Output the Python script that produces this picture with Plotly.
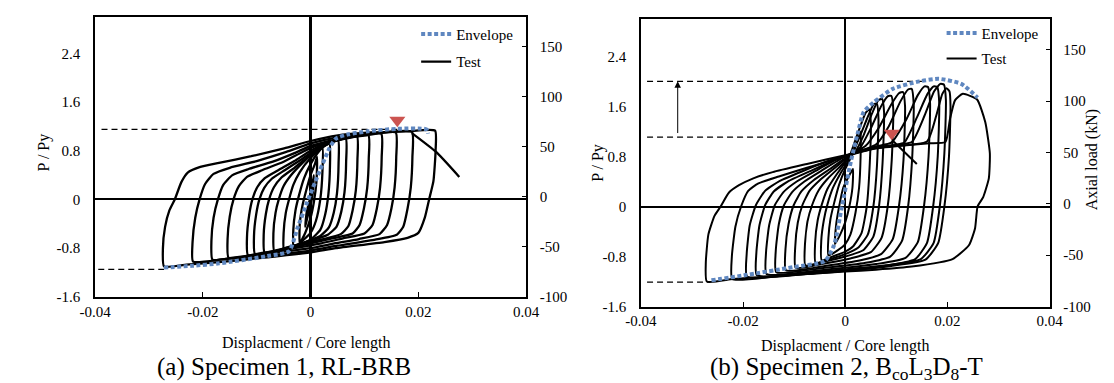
import plotly.graph_objects as go

# ---------------- axis ticks ----------------
x_ticks = [-0.04, -0.02, 0, 0.02, 0.04]
x_tick_text = ["-0.04", "-0.02", "0", "0.02", "0.04"]
p_ticks = [-1.6, -0.8, 0, 0.8, 1.6, 2.4]
p_tick_text = ["-1.6", "-0.8", "0", "0.8", "1.6", "2.4"]
kn_ticks = [-100, -50, 0, 50, 100, 150]
kn_tick_text = ["-100", "-50", "0", "50", "100", "150"]

# ---------------- Specimen 1 (RL-BRB): test loops (x, P/Py) ----------------
a1 = [(-0.0272,-1.10),(-0.0274,-0.80),(-0.0270,-0.45),(-0.0262,-0.18),(-0.0252,0.00),(-0.0240,0.28),(-0.0228,0.44),(-0.0206,0.53),(-0.0170,0.60),(-0.0110,0.71),(-0.0049,0.84),(0.0000,0.96),(0.0048,1.05),(0.0113,1.10),(0.0180,1.12),(0.0231,1.13),(0.0232,0.80),(0.0228,0.30),(0.0220,0.00),(0.0212,-0.30),(0.0200,-0.55),(0.0180,-0.63),(0.0137,-0.70),(0.0047,-0.80),(0.0000,-0.87),(-0.0080,-0.95),(-0.0170,-1.03),(-0.0230,-1.07),(-0.0272,-1.10)]
a2 = [(-0.0218,-1.02),(-0.0219,-0.70),(-0.0214,-0.30),(-0.0206,0.00),(-0.0196,0.25),(-0.0180,0.42),(-0.0150,0.52),(-0.0100,0.63),(-0.0045,0.78),(0.0000,0.92),(0.0050,1.02),(0.0110,1.08),(0.0188,1.11),(0.0189,0.70),(0.0186,0.20),(0.0180,-0.15),(0.0172,-0.45),(0.0160,-0.58),(0.0120,-0.66),(0.0050,-0.76),(0.0000,-0.84),(-0.0080,-0.92),(-0.0160,-0.98),(-0.0218,-1.02)]
a3 = [(-0.0182,-0.99),(-0.0184,-0.68),(-0.0180,-0.30),(-0.0172,0.00),(-0.0162,0.24),(-0.0145,0.40),(-0.0115,0.50),(-0.0070,0.62),(-0.0030,0.76),(0.0000,0.88),(0.0050,0.99),(0.0100,1.05),(0.0158,1.10),(0.0159,0.70),(0.0156,0.20),(0.0150,-0.15),(0.0142,-0.42),(0.0128,-0.57),(0.0090,-0.65),(0.0040,-0.73),(0.0000,-0.80),(-0.0080,-0.89),(-0.0140,-0.95),(-0.0182,-0.99)]
a4 = [(-0.0152,-0.96),(-0.0154,-0.65),(-0.0150,-0.28),(-0.0143,0.00),(-0.0133,0.22),(-0.0118,0.37),(-0.0090,0.48),(-0.0050,0.62),(-0.0015,0.78),(0.0010,0.88),(0.0060,0.99),(0.0131,1.08),(0.0132,0.70),(0.0129,0.20),(0.0123,-0.15),(0.0115,-0.42),(0.0100,-0.56),(0.0060,-0.64),(0.0020,-0.72),(-0.0030,-0.80),(-0.0090,-0.88),(-0.0152,-0.96)]
a5 = [(-0.0116,-0.92),(-0.0118,-0.62),(-0.0114,-0.26),(-0.0108,0.00),(-0.0099,0.20),(-0.0085,0.35),(-0.0060,0.48),(-0.0030,0.63),(0.0000,0.80),(0.0030,0.92),(0.0107,1.06),(0.0108,0.68),(0.0105,0.18),(0.0099,-0.15),(0.0091,-0.42),(0.0078,-0.56),(0.0040,-0.64),(0.0000,-0.72),(-0.0060,-0.84),(-0.0116,-0.92)]
a6 = [(-0.0103,-0.90),(-0.0105,-0.60),(-0.0101,-0.25),(-0.0095,0.00),(-0.0086,0.19),(-0.0072,0.34),(-0.0048,0.48),(-0.0020,0.64),(0.0010,0.82),(0.0040,0.94),(0.0086,1.04),(0.0087,0.66),(0.0084,0.15),(0.0078,-0.18),(0.0070,-0.44),(0.0056,-0.57),(0.0020,-0.66),(-0.0020,-0.74),(-0.0060,-0.83),(-0.0103,-0.90)]
a7 = [(-0.0085,-0.88),(-0.0087,-0.58),(-0.0083,-0.24),(-0.0077,0.00),(-0.0068,0.20),(-0.0054,0.36),(-0.0030,0.52),(-0.0005,0.70),(0.0020,0.86),(0.0065,1.01),(0.0066,0.62),(0.0063,0.12),(0.0057,-0.20),(0.0048,-0.45),(0.0032,-0.58),(0.0000,-0.68),(-0.0040,-0.78),(-0.0085,-0.88)]
a8 = [(-0.0067,-0.86),(-0.0069,-0.56),(-0.0065,-0.22),(-0.0059,0.00),(-0.0050,0.22),(-0.0036,0.40),(-0.0015,0.60),(0.0010,0.80),(0.0030,0.92),(0.0051,0.98),(0.0052,0.60),(0.0049,0.10),(0.0043,-0.22),(0.0034,-0.46),(0.0018,-0.60),(-0.0010,-0.70),(-0.0040,-0.79),(-0.0067,-0.86)]
a9 = [(-0.0049,-0.84),(-0.0050,-0.55),(-0.0046,-0.22),(-0.0040,0.00),(-0.0032,0.24),(-0.0020,0.45),(0.0000,0.68),(0.0020,0.84),(0.0035,0.92),(0.0036,0.55),(0.0033,0.08),(0.0027,-0.25),(0.0018,-0.50),(0.0000,-0.66),(-0.0025,-0.76),(-0.0049,-0.84)]
a10 = [(-0.0031,-0.80),(-0.0032,-0.50),(-0.0028,-0.18),(-0.0022,0.05),(-0.0012,0.35),(0.0000,0.58),(0.0012,0.75),(0.0022,0.85),(0.0022,0.45),(0.0018,0.00),(0.0010,-0.35),(0.0000,-0.55),(-0.0015,-0.68),(-0.0031,-0.80)]
a11 = [(-0.0020,-0.72),(-0.0020,-0.40),(-0.0015,-0.10),(-0.0008,0.15),(0.0000,0.40),(0.0008,0.58),(0.0012,0.70),(0.0011,0.30),(0.0006,-0.05),(0.0000,-0.30),(-0.0010,-0.55),(-0.0020,-0.72)]
a12 = [(-0.0010,-0.45),(-0.0007,-0.20),(0.0000,0.05),(0.0006,0.40),(0.0004,0.10),(0.0000,-0.10),(-0.0006,-0.30),(-0.0010,-0.45)]
a_fracture = [(0.0188,1.09),(0.0233,0.78),(0.0276,0.37)]

a_envelope = [(-0.0272,-1.12),(-0.0220,-1.09),(-0.0170,-1.05),(-0.0080,-0.93),(-0.0040,-0.85),(-0.0025,-0.49),(-0.0007,-0.06),(0.0017,0.47),(0.0035,0.84),(0.0047,1.00),(0.0070,1.07),(0.0107,1.12),(0.0161,1.16),(0.0215,1.15),(0.0218,1.08)]
a_dash_upper = [(-0.0388,1.15),(0.0161,1.15)]
a_dash_lower = [(-0.0394,-1.15),(-0.0272,-1.15)]
a_peak = [(0.0161,1.30)]

# ---------------- Specimen 2 (BcoL3D8-T): test loops ----------------
b1 = [(-0.0020,-0.60),(-0.0018,-0.30),(-0.0012,0.00),(-0.0004,0.30),(0.0008,0.50),(0.0015,0.60),(0.0014,0.30),(0.0008,0.00),(0.0000,-0.25),(-0.0010,-0.45),(-0.0020,-0.60)]
b2 = [(-0.0033,-0.78),(-0.0033,-0.50),(-0.0029,-0.20),(-0.0022,0.05),(-0.0012,0.35),(0.0000,0.60),(0.0015,0.85),(0.0024,1.05),(0.0030,1.20),(0.0030,0.80),(0.0027,0.30),(0.0020,-0.10),(0.0010,-0.45),(0.0000,-0.60),(-0.0015,-0.70),(-0.0033,-0.78)]
b3 = [(-0.0046,-0.86),(-0.0047,-0.55),(-0.0042,-0.22),(-0.0035,0.03),(-0.0024,0.30),(-0.0010,0.52),(0.0005,0.72),(0.0015,0.95),(0.0028,1.25),(0.0040,1.50),(0.0047,1.55),(0.0050,1.35),(0.0048,0.70),(0.0042,0.00),(0.0032,-0.42),(0.0015,-0.64),(0.0000,-0.72),(-0.0025,-0.80),(-0.0046,-0.86)]
b4 = [(-0.0058,-0.90),(-0.0059,-0.58),(-0.0054,-0.22),(-0.0046,0.03),(-0.0035,0.28),(-0.0018,0.50),(0.0000,0.70),(0.0015,0.88),(0.0030,1.15),(0.0045,1.45),(0.0056,1.64),(0.0062,1.64),(0.0065,1.40),(0.0062,0.65),(0.0055,0.00),(0.0044,-0.45),(0.0025,-0.66),(0.0000,-0.76),(-0.0030,-0.84),(-0.0058,-0.90)]
b5 = [(-0.0078,-0.94),(-0.0079,-0.62),(-0.0074,-0.24),(-0.0065,0.02),(-0.0052,0.26),(-0.0035,0.44),(-0.0010,0.64),(0.0020,0.88),(0.0035,1.12),(0.0052,1.48),(0.0065,1.70),(0.0072,1.72),(0.0076,1.50),(0.0073,0.70),(0.0066,0.00),(0.0055,-0.48),(0.0035,-0.70),(0.0000,-0.80),(-0.0040,-0.88),(-0.0078,-0.94)]
b6 = [(-0.0097,-0.98),(-0.0098,-0.65),(-0.0093,-0.26),(-0.0084,0.02),(-0.0070,0.25),(-0.0050,0.42),(-0.0020,0.62),(0.0010,0.82),(0.0030,0.95),(0.0050,1.25),(0.0070,1.60),(0.0083,1.76),(0.0090,1.77),(0.0094,1.55),(0.0091,0.75),(0.0083,0.00),(0.0071,-0.50),(0.0050,-0.73),(0.0010,-0.83),(-0.0040,-0.91),(-0.0097,-0.98)]
b7 = [(-0.0116,-1.02),(-0.0117,-0.68),(-0.0111,-0.28),(-0.0101,0.02),(-0.0086,0.24),(-0.0062,0.42),(-0.0030,0.60),(0.0005,0.80),(0.0040,0.97),(0.0065,1.25),(0.0090,1.63),(0.0105,1.81),(0.0113,1.83),(0.0117,1.60),(0.0114,0.75),(0.0105,0.00),(0.0093,-0.52),(0.0070,-0.76),(0.0030,-0.86),(-0.0040,-0.95),(-0.0116,-1.02)]
b8 = [(-0.0135,-1.05),(-0.0136,-0.70),(-0.0130,-0.28),(-0.0120,0.02),(-0.0104,0.23),(-0.0080,0.40),(-0.0045,0.58),(0.0000,0.80),(0.0060,0.99),(0.0085,1.28),(0.0108,1.68),(0.0123,1.87),(0.0130,1.88),(0.0134,1.62),(0.0131,0.78),(0.0123,0.00),(0.0111,-0.55),(0.0088,-0.80),(0.0040,-0.90),(-0.0040,-0.98),(-0.0135,-1.05)]
b9 = [(-0.0154,-1.08),(-0.0155,-0.72),(-0.0149,-0.30),(-0.0138,0.02),(-0.0121,0.23),(-0.0095,0.40),(-0.0058,0.57),(-0.0010,0.78),(0.0060,0.96),(0.0090,1.02),(0.0120,1.40),(0.0142,1.78),(0.0155,1.92),(0.0162,1.91),(0.0166,1.65),(0.0163,0.80),(0.0154,0.00),(0.0142,-0.57),(0.0118,-0.82),(0.0060,-0.92),(-0.0040,-1.01),(-0.0154,-1.08)]
b10 = [(-0.0173,-1.10),(-0.0174,-0.74),(-0.0168,-0.30),(-0.0157,0.02),(-0.0140,0.24),(-0.0112,0.40),(-0.0070,0.56),(-0.0015,0.76),(0.0060,0.95),(0.0130,1.03),(0.0155,1.45),(0.0174,1.84),(0.0186,1.96),(0.0193,1.95),(0.0197,1.70),(0.0194,0.85),(0.0185,0.00),(0.0173,-0.58),(0.0148,-0.84),(0.0080,-0.94),(-0.0040,-1.03),(-0.0173,-1.10)]
b11 = [(-0.0192,-1.12),(-0.0193,-0.76),(-0.0187,-0.30),(-0.0175,0.02),(-0.0157,0.25),(-0.0128,0.41),(-0.0085,0.56),(-0.0025,0.75),(0.0060,0.94),(0.0160,1.04),(0.0178,1.45),(0.0190,1.80),(0.0198,1.89),(0.0204,1.84),(0.0206,1.60),(0.0203,0.80),(0.0194,0.00),(0.0182,-0.58),(0.0157,-0.85),(0.0090,-0.95),(-0.0040,-1.05),(-0.0192,-1.12)]
b12 = [(-0.0221,-1.16),(-0.0222,-0.80),(-0.0215,-0.32),(-0.0204,0.00),(-0.0190,0.25),(-0.0170,0.37),(-0.0130,0.48),(-0.0075,0.62),(-0.0010,0.78),(0.0060,0.93),(0.0115,1.02),(0.0140,1.42),(0.0161,1.80),(0.0173,1.92),(0.0180,1.91),(0.0184,1.65),(0.0181,0.80),(0.0172,0.00),(0.0160,-0.58),(0.0137,-0.84),(0.0070,-0.96),(-0.0040,-1.06),(-0.0130,-1.11),(-0.0221,-1.16)]
b13 = [(-0.0271,-1.20),(-0.0273,-0.90),(-0.0268,-0.45),(-0.0256,-0.15),(-0.0244,0.00),(-0.0228,0.22),(-0.0208,0.34),(-0.0180,0.45),(-0.0142,0.55),(-0.0075,0.68),(0.0000,0.82),(0.0060,0.93),(0.0120,0.98),(0.0165,1.01),(0.0196,1.03),(0.0205,1.40),(0.0215,1.70),(0.0230,1.80),(0.0258,1.71),(0.0274,1.35),(0.0283,0.85),(0.0281,0.45),(0.0270,0.15),(0.0259,0.00),(0.0254,-0.35),(0.0242,-0.62),(0.0210,-0.84),(0.0130,-0.96),(0.0060,-1.01),(0.0000,-1.04),(-0.0075,-1.08),(-0.0150,-1.12),(-0.0220,-1.16),(-0.0271,-1.20)]
b_tail = [(0.0093,1.05),(0.0140,0.68)]

b_envelope = [(-0.0262,-1.18),(-0.0198,-1.10),(-0.0103,-0.97),(-0.0040,-0.87),(-0.0022,-0.62),(-0.0008,-0.06),(0.0011,0.72),(0.0025,1.19),(0.0036,1.51),(0.0055,1.66),(0.0093,1.88),(0.0145,2.00),(0.0183,2.04),(0.0227,1.96),(0.0259,1.74)]
b_dash_top = [(-0.0388,2.00),(0.0150,2.00)]
b_dash_mid = [(-0.0388,1.11),(0.0017,1.11)]
b_dash_low = [(-0.0388,-1.21),(-0.0265,-1.21)]
b_arrow = [(-0.0328,1.15),(-0.0328,2.00)]
b_peak = [(0.0091,1.17)]

# ---------------- styling ----------------
W, H = 1114, 383
FONT = "Liberation Serif, Times New Roman, Times, serif"
ENV_COLOR = "#5f87c0"
RED = "#cc5450"


def joined(paths):
    xs, ys = [], []
    for p in paths:
        for x, y in p:
            xs.append(x)
            ys.append(y)
        xs.append(None)
        ys.append(None)
    return xs, ys


def xs_of(p):
    return [v[0] for v in p]


def ys_of(p):
    return [v[1] for v in p]


fig = go.Figure()

# ---- panel (a) ----
ax_, ay_ = joined([a1, a2, a3, a4, a5, a6, a7, a8, a9, a10, a11, a12, a_fracture])
fig.add_trace(go.Scatter(x=ax_, y=ay_, mode="lines", name="Test", legend="legend",
                         legendgroup="t", legendrank=2,
                         line=dict(color="black", width=2.3, shape="spline", smoothing=0.5),
                         xaxis="x", yaxis="y", hoverinfo="skip"))
for seg in (a_dash_upper, a_dash_lower):
    fig.add_trace(go.Scatter(x=xs_of(seg), y=ys_of(seg), mode="lines", showlegend=False,
                             line=dict(color="black", width=1.3, dash="6px,4px"),
                             xaxis="x", yaxis="y", hoverinfo="skip"))
fig.add_trace(go.Scatter(x=xs_of(a_envelope), y=ys_of(a_envelope), mode="lines", name="Envelope",
                         legend="legend", legendgroup="e", legendrank=1,
                         line=dict(color=ENV_COLOR, width=4, dash="4px,2.5px", shape="spline", smoothing=0.6),
                         xaxis="x", yaxis="y", hoverinfo="skip"))
fig.add_trace(go.Scatter(x=xs_of(a_peak), y=ys_of(a_peak), mode="markers", showlegend=False,
                         marker=dict(symbol="triangle-down", size=14, color=RED),
                         xaxis="x", yaxis="y", hoverinfo="skip"))
fig.add_trace(go.Scatter(x=[0], y=[0], mode="markers", showlegend=False, opacity=0,
                         xaxis="x", yaxis="y2", hoverinfo="skip"))

# ---- panel (b) ----
bx_, by_ = joined([b1, b2, b3, b4, b5, b6, b7, b8, b9, b10, b11, b12, b13, b_tail])
fig.add_trace(go.Scatter(x=bx_, y=by_, mode="lines", name="Test", legend="legend2",
                         legendgroup="t2", legendrank=2,
                         line=dict(color="black", width=2, shape="spline", smoothing=0.5),
                         xaxis="x2", yaxis="y3", hoverinfo="skip"))
for seg in (b_dash_top, b_dash_mid, b_dash_low):
    fig.add_trace(go.Scatter(x=xs_of(seg), y=ys_of(seg), mode="lines", showlegend=False,
                             line=dict(color="black", width=1.3, dash="6px,4px"),
                             xaxis="x2", yaxis="y3", hoverinfo="skip"))
fig.add_trace(go.Scatter(x=xs_of(b_envelope), y=ys_of(b_envelope), mode="lines", name="Envelope",
                         legend="legend2", legendgroup="e2", legendrank=1,
                         line=dict(color=ENV_COLOR, width=4, dash="4px,2.5px", shape="spline", smoothing=0.6),
                         xaxis="x2", yaxis="y3", hoverinfo="skip"))
fig.add_trace(go.Scatter(x=xs_of(b_peak), y=ys_of(b_peak), mode="markers", showlegend=False,
                         marker=dict(symbol="triangle-down", size=14, color=RED),
                         xaxis="x2", yaxis="y3", hoverinfo="skip"))
fig.add_trace(go.Scatter(x=[0], y=[0], mode="markers", showlegend=False, opacity=0,
                         xaxis="x2", yaxis="y4", hoverinfo="skip"))

# arrow in panel (b)
fig.add_annotation(x=b_arrow[1][0], y=b_arrow[1][1], ax=b_arrow[0][0], ay=b_arrow[0][1],
                   xref="x2", yref="y3", axref="x2", ayref="y3", text="", showarrow=True,
                   arrowhead=2, arrowsize=1.3, arrowwidth=1, arrowcolor="black", standoff=0)

tickfont = dict(family=FONT, size=15, color="black")


def xaxis_cfg(domain, anchor, zw):
    return dict(domain=domain, anchor=anchor, range=[-0.04, 0.04], tickvals=x_ticks,
                ticktext=x_tick_text, ticks="inside", ticklen=5, tickcolor="black",
                showline=True, linecolor="black", linewidth=1.5, mirror=True,
                showgrid=False, zeroline=True, zerolinecolor="black", zerolinewidth=zw,
                tickfont=tickfont, fixedrange=True)


def pyaxis_cfg(domain, anchor):
    return dict(domain=domain, anchor=anchor, range=[-1.6, 3.0], tickvals=p_ticks,
                ticktext=p_tick_text, ticks="", ticklabelstandoff=10,
                showline=True, linecolor="black", linewidth=1.5, mirror=True,
                showgrid=False, zeroline=True, zerolinecolor="black", zerolinewidth=2.4,
                tickfont=tickfont, fixedrange=True)


def knaxis_cfg(overlay, anchor):
    return dict(overlaying=overlay, anchor=anchor, side="right", range=[-100, 180],
                tickvals=kn_ticks, ticktext=kn_tick_text, ticks="inside", ticklen=4,
                tickcolor="black", ticklabelstandoff=9, showline=True, linecolor="black",
                linewidth=1.5, showgrid=False, zeroline=False, tickfont=tickfont,
                fixedrange=True)


legend_font = dict(family=FONT, size=15, color="black")

fig.update_layout(
    width=W, height=H,
    margin=dict(l=0, r=0, t=0, b=0),
    paper_bgcolor="white", plot_bgcolor="white",
    xaxis=xaxis_cfg([73 / W, 516 / W], "y", 2.5),
    yaxis=pyaxis_cfg([1 - 295 / H, 1 - 9 / H], "x"),
    yaxis2=knaxis_cfg("y", "x"),
    xaxis2=xaxis_cfg([634 / W, 1054 / W], "y3", 1.5),
    yaxis3=pyaxis_cfg([1 - 305 / H, 1 - 11 / H], "x2"),
    yaxis4=knaxis_cfg("y3", "x2"),
    legend=dict(x=403 / W, y=1 - 10 / H, xanchor="left", yanchor="top",
                bgcolor="rgba(0,0,0,0)", font=legend_font, traceorder="grouped",
                tracegroupgap=5),
    legend2=dict(x=943 / W, y=1 - 9 / H, xanchor="left", yanchor="top",
                 bgcolor="rgba(0,0,0,0)", font=legend_font, traceorder="grouped",
                 tracegroupgap=3),
    showlegend=True,
)


def label(text, px, py, size, angle=0):
    fig.add_annotation(x=px / W, y=1 - py / H, xref="paper", yref="paper", text=text,
                       showarrow=False, textangle=angle, xanchor="center", yanchor="middle",
                       font=dict(family=FONT, size=size, color="black"))


label("P / Py", 20, 147, 16, -90)
label("P / Py", 590, 158, 16, -90)
label("Axial load (kN)", 1097, 155, 16, -90)
label("Displacment / Core length", 290, 342, 16)
label("Displacment / Core length", 844, 345, 16)
label("(a) Specimen 1, RL-BRB", 267, 367, 25)
label("(b) Specimen 2, B<sub>co</sub>L<sub>3</sub>D<sub>8</sub>-T", 845, 368, 25)

fig.write_html("out.html")
